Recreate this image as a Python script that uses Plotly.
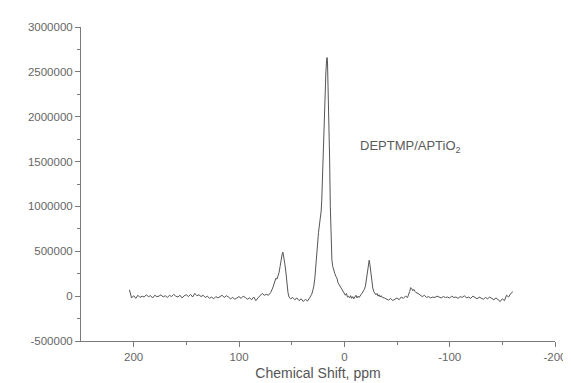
import plotly.graph_objects as go

# Chemical shift (ppm) and intensity
ppm_baseline_left = [204, 202, 200, 198, 196, 194, 192, 190, 188, 186, 184, 182, 180, 178, 176, 174, 172, 170,
                     168, 166, 164, 162, 160, 158, 156, 154, 152, 150, 148, 146, 144, 142, 140, 138, 136, 134,
                     132, 130, 128, 126, 124, 122, 120, 118, 116, 114, 112, 110, 108, 106, 104, 102, 100, 98,
                     96, 94, 92, 90, 88, 86, 84, 82, 80, 78, 76]
int_baseline_left = [70000, -20000, 5000, -25000, 10000, -15000, 0, -10000, 15000, -5000, 5000, -20000, 10000,
                     -5000, 0, 15000, -10000, 5000, -15000, 10000, -5000, 20000, 0, -10000, 10000, -20000, 5000,
                     15000, -5000, 20000, -10000, 30000, 5000, 15000, -5000, 10000, -15000, 0, -25000, -10000,
                     -30000, -5000, -20000, 0, 10000, -15000, 5000, -10000, -30000, -15000, -35000, -20000, -5000,
                     -25000, 0, -15000, -35000, -20000, -40000, -10000, -50000, -20000, 10000, 30000, 10000]

ppm_side_left = [74, 72, 70, 68, 66, 65, 64, 63, 62, 61, 60, 59, 58.3, 57.5, 56.5, 55.5, 54.5, 53.5, 52.5, 51,
                 49, 47, 45, 43, 41, 39, 37, 35, 33, 31]
int_side_left = [20000, 10000, 40000, 90000, 170000, 200000, 190000, 215000, 260000, 330000, 420000, 470000,
                 490000, 440000, 360000, 270000, 140000, 40000, -10000, -30000, -15000, -40000, -20000, -50000,
                 -30000, -60000, -35000, -55000, -20000, 20000]

ppm_main = [30, 29, 28, 27.5, 27, 26, 25, 24.5, 24, 23, 22, 21.5, 21, 20, 19, 18.4, 17.5, 16.8, 16.4, 16, 15.5,
            14.9, 14, 13.3, 12.5, 11.8, 11, 10, 9, 8, 7, 6, 5, 4, 3, 2, 1, 0]
int_main = [60000, 110000, 200000, 290000, 380000, 530000, 650000, 710000, 760000, 850000, 950000, 1050000,
            1250000, 1750000, 2050000, 2300000, 2500000, 2630000, 2660000, 2620000, 2400000, 2100000, 1550000,
            1000000, 620000, 400000, 330000, 280000, 250000, 220000, 200000, 150000, 130000, 100000, 90000,
            60000, 50000, 30000]

ppm_side_right = [-1, -2, -3, -4, -5, -6, -7, -8, -9, -10, -11, -12, -13, -14, -15, -16, -17, -18, -19, -20, -21,
                  -22, -23, -23.6, -24.3, -25, -26, -27, -28, -29, -30, -31, -32, -33, -34, -35, -36]
int_side_right = [10000, 30000, -10000, 0, -20000, 5000, -25000, -5000, -30000, -10000, 10000, -20000, 0,
                  -15000, 10000, 20000, 35000, 50000, 75000, 110000, 180000, 270000, 370000, 400000, 350000,
                  260000, 160000, 90000, 50000, 30000, 15000, 30000, 0, 15000, -10000, 5000, -15000]

ppm_baseline_right = [-38, -40, -42, -44, -46, -48, -50, -52, -54, -56, -58, -60, -61, -62, -63, -64, -65, -66,
                      -67, -68, -70, -72, -74, -76, -78, -80, -82, -84, -86, -88, -90, -92, -94, -96, -98, -100,
                      -102, -104, -106, -108, -110, -112, -114, -116, -118, -120, -122, -124, -126, -128, -130,
                      -132, -134, -136, -138, -140, -142, -144, -146, -148, -150, -152, -154, -156, -158, -160]
int_baseline_right = [-20000, -30000, -45000, -25000, -50000, -35000, -20000, -40000, -10000, -25000, 0, -15000,
                      10000, 50000, 95000, 85000, 60000, 75000, 55000, 40000, 30000, 10000, -5000, 10000, -15000,
                      -5000, -20000, -10000, -15000, 0, -10000, -20000, -5000, -15000, -10000, -20000, 0, -15000,
                      -10000, -25000, -5000, -15000, 5000, -20000, -10000, -25000, 0, -15000, -30000, -10000,
                      -20000, -35000, -15000, -30000, -10000, -25000, -40000, -20000, -45000, -60000, -30000,
                      -50000, 10000, -10000, 30000, 50000]

ppm = ppm_baseline_left + ppm_side_left + ppm_main + ppm_side_right + ppm_baseline_right
intensity = int_baseline_left + int_side_left + int_main + int_side_right + int_baseline_right

x_tick_values = [200, 100, 0, -100, -200]
x_tick_labels = ["200", "100", "0", "-100", "-200"]
y_tick_values = [-500000, 0, 500000, 1000000, 1500000, 2000000, 2500000, 3000000]
y_tick_labels = ["-500000", "0", "500000", "1000000", "1500000", "2000000", "2500000", "3000000"]

sample_label = "DEPTMP/APTiO<sub>2</sub>"
x_title = "Chemical Shift, ppm"

axis_color = "#7a7a7a"
text_color = "#666666"
font_family = "Liberation Sans, Arial, sans-serif"

fig = go.Figure()
fig.add_trace(go.Scatter(x=ppm, y=intensity, mode="lines",
                         line=dict(color="#555555", width=1), showlegend=False))

fig.add_annotation(x=-13, y=1670000, xref="x", yref="y", text=sample_label,
                   showarrow=False, xanchor="left", yanchor="middle",
                   font=dict(family=font_family, size=13, color="#5a5a5a"))

fig.update_layout(
    width=571, height=383,
    margin=dict(l=73, r=14, t=19, b=47),
    paper_bgcolor="white", plot_bgcolor="white",
    font=dict(family=font_family, size=11, color=text_color),
    xaxis=dict(range=[250, -200], tickmode="array", tickvals=x_tick_values, ticktext=x_tick_labels,
               showgrid=False, zeroline=False,
               showline=True, linecolor=axis_color, linewidth=1,
               ticks="outside", ticklen=5, tickcolor=axis_color,
               minor=dict(tickmode="array", tickvals=[150, 50, -50, -150], ticks="outside", ticklen=3,
                          tickcolor=axis_color),
               title=dict(text=x_title, font=dict(size=14, color="#555555"), standoff=6),
               tickfont=dict(size=11.5, color=text_color)),
    yaxis=dict(range=[-500000, 3000000], tickmode="array", tickvals=y_tick_values, ticktext=y_tick_labels,
               showgrid=False, zeroline=False,
               showline=True, linecolor=axis_color, linewidth=1,
               ticks="outside", ticklen=5, tickcolor=axis_color,
               minor=dict(tickmode="array",
                          tickvals=[-250000, 250000, 750000, 1250000, 1750000, 2250000, 2750000],
                          ticks="outside", ticklen=3, tickcolor=axis_color),
               tickfont=dict(size=11.5, color=text_color)),
)

fig.write_html("out.html")
